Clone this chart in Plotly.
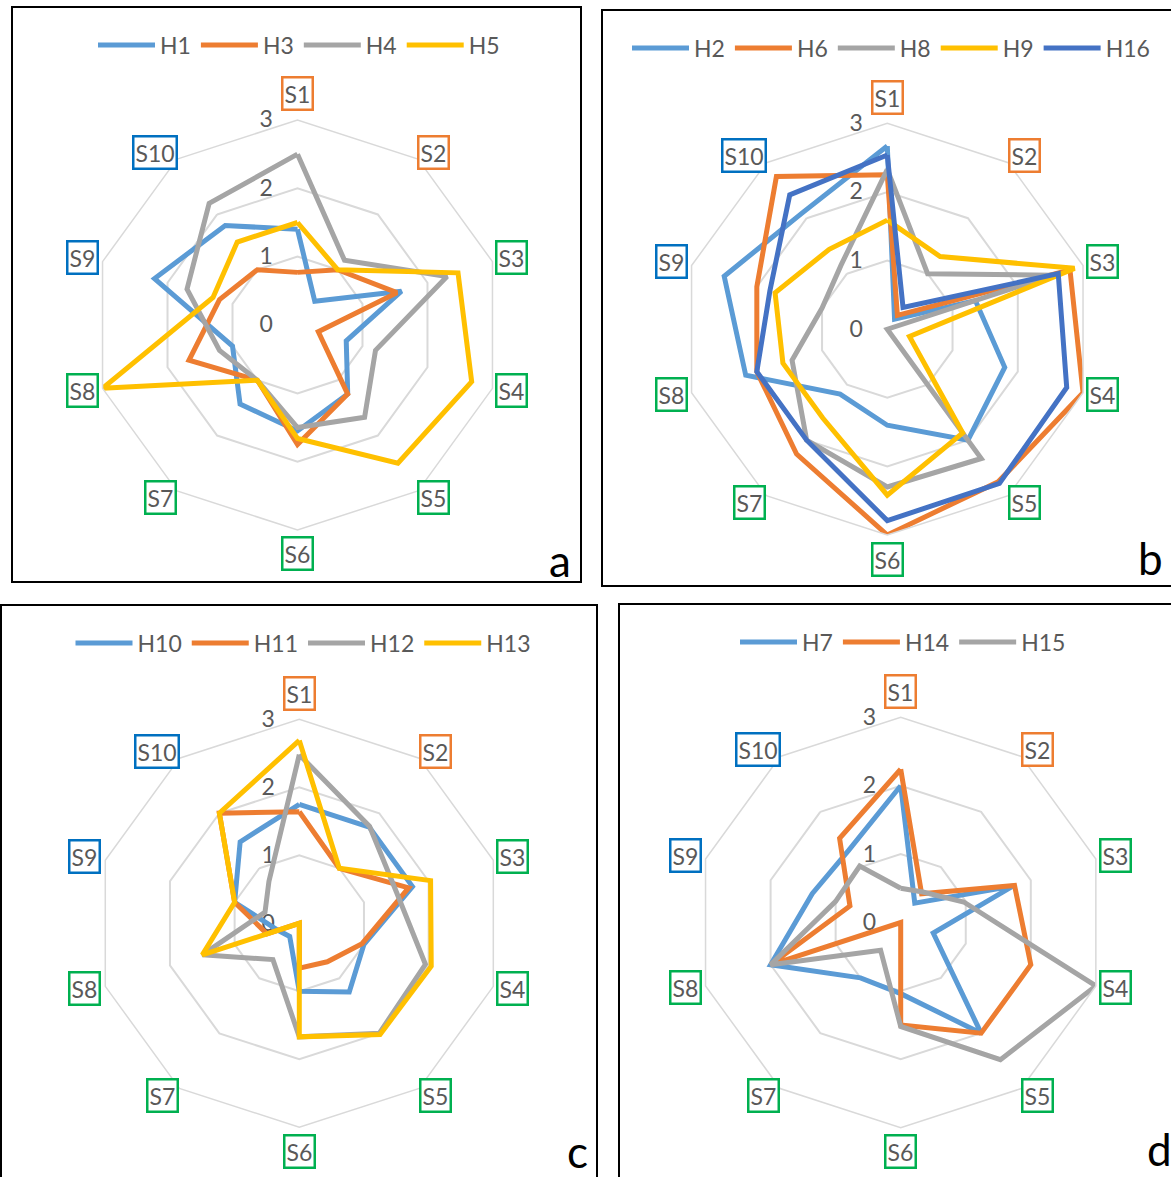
import math
import plotly.graph_objects as go

W, H = 1171, 1177

categories = ["S1", "S2", "S3", "S4", "S5", "S6", "S7", "S8", "S9", "S10"]
radial_ticks = [0, 1, 2, 3]

# Panel a
a_names = ["H1", "H3", "H4", "H5"]
a_H1 = [1.4, 0.43, 1.6, 0.75, 1.25, 1.55, 1.43, 1.0, 2.2, 1.8]
a_H3 = [0.77, 1.0, 1.53, 0.32, 1.25, 1.75, 1.0, 1.67, 1.2, 1.0]
a_H4 = [2.5, 1.17, 2.3, 1.2, 1.67, 1.5, 1.0, 1.2, 1.7, 2.2]
a_H5 = [1.5, 1.0, 2.47, 2.68, 2.5, 1.66, 1.0, 3.0, 1.3, 1.5]

# Panel b
b_names = ["H2", "H6", "H8", "H9", "H16"]
b_H2 = [2.67, 0.18, 1.35, 1.8, 2.0, 1.4, 1.17, 2.17, 2.5, 2.1]
b_H6 = [2.25, 0.25, 2.8, 3.0, 2.75, 3.0, 2.25, 2.0, 2.0, 2.75]
b_H8 = [2.33, 1.0, 2.55, 0.0, 2.33, 2.3, 2.0, 1.46, 1.0, 1.15]
b_H9 = [1.59, 1.31, 2.87, 0.34, 1.87, 2.42, 1.6, 1.6, 1.72, 1.44]
b_H16 = [2.54, 0.39, 2.62, 2.75, 2.78, 2.79, 2.0, 2.0, 1.8, 2.42]

# Panel c
c_names = ["H10", "H11", "H12", "H13"]
c_H10 = [1.75, 1.75, 1.75, 1.0, 1.25, 1.0, 0.24, 0.33, 1.0, 1.48]
c_H11 = [1.64, 1.0, 1.69, 0.97, 0.7, 0.66, 0.0, 0.5, 1.0, 2.0]
c_H12 = [2.48, 1.76, 1.5, 1.95, 2.0, 1.67, 0.66, 1.5, 0.53, 0.76]
c_H13 = [2.69, 1.0, 2.03, 2.04, 2.02, 1.67, 0.0, 1.5, 1.0, 2.0]

# Panel d
d_names = ["H7", "H14", "H15"]
d_H7 = [2.0, 0.35, 1.73, 0.5, 2.0, 1.04, 1.0, 2.0, 1.36, 1.3]
d_H14 = [2.24, 0.52, 1.75, 2.0, 2.0, 1.5, 0.0, 2.0, 0.78, 1.52]
d_H15 = [0.5, 0.55, 0.97, 3.0, 2.48, 1.52, 0.5, 2.0, 1.0, 1.02]

BLUE, ORANGE, GRAY, YELLOW, DBLUE = "#5B9BD5", "#ED7D31", "#A5A5A5", "#FFC000", "#4472C4"
GREEN, LBLUE = "#00B050", "#0070C0"
label_border = {"S1": ORANGE, "S2": ORANGE, "S3": GREEN, "S4": GREEN,
                "S5": GREEN, "S6": GREEN, "S7": GREEN, "S8": GREEN,
                "S9": LBLUE, "S10": LBLUE}
# label offsets (px) from each outer vertex
label_off = [(0, -26), (16, -7), (19.5, -4), (19.5, 2), (16, 7), (0, 24),
             (-17, 7), (-20.5, 2), (-20.5, -4), (-22, -7)]

FONT = "Lato, 'Open Sans', sans-serif"
TXT = "#595959"
FS = 23

panels = [
    dict(key="polar", legend="legend", cx=297.5, cy=325, R=205,
         series=[(a_names[0], a_H1, BLUE), (a_names[1], a_H3, ORANGE),
                 (a_names[2], a_H4, GRAY), (a_names[3], a_H5, YELLOW)],
         letter="a", lpos=(560, 560), legpos=(299, 45)),
    dict(key="polar2", legend="legend2", cx=887.3, cy=329.2, R=205.8,
         series=[(b_names[0], b_H2, BLUE), (b_names[1], b_H6, ORANGE),
                 (b_names[2], b_H8, GRAY), (b_names[3], b_H9, YELLOW),
                 (b_names[4], b_H16, DBLUE)],
         letter="b", lpos=(1150, 558), legpos=(891, 48)),
    dict(key="polar3", legend="legend3", cx=299.3, cy=923.3, R=204,
         series=[(c_names[0], c_H10, BLUE), (c_names[1], c_H11, ORANGE),
                 (c_names[2], c_H12, GRAY), (c_names[3], c_H13, YELLOW)],
         letter="c", lpos=(577, 1151), legpos=(303, 643)),
    dict(key="polar4", legend="legend4", cx=900.7, cy=922.5, R=205.2,
         series=[(d_names[0], d_H7, BLUE), (d_names[1], d_H14, ORANGE),
                 (d_names[2], d_H15, GRAY)],
         letter="d", lpos=(1159, 1149), legpos=(903, 642)),
]

fig = go.Figure()
layout = dict(width=W, height=H, margin=dict(l=0, r=0, t=0, b=0),
              paper_bgcolor="white", plot_bgcolor="white",
              font=dict(family=FONT, color=TXT, size=FS))
annotations = []
shapes = []

for p in panels:
    for name, vals, color in p["series"]:
        fig.add_trace(go.Scatterpolar(
            r=vals + vals[:1], theta=categories + categories[:1],
            mode="lines", name=name, subplot=p["key"], legend=p["legend"],
            line=dict(color=color, width=5), hoverinfo="name+r+theta"))
    cx, cy, R = p["cx"], p["cy"], p["R"]
    layout[p["key"]] = dict(
        domain=dict(x=[(cx - R) / W, (cx + R) / W], y=[1 - (cy + R) / H, 1 - (cy - R) / H]),
        bgcolor="rgba(0,0,0,0)", gridshape="linear",
        radialaxis=dict(range=[0, 3], tickvals=radial_ticks, showline=False,
                        ticks="outside", ticklen=16, tickcolor="rgba(0,0,0,0)",
                        gridcolor="#D9D9D9", gridwidth=1.5, angle=90, side="counterclockwise",
                        tickangle=90, layer="below traces",
                        tickfont=dict(size=FS, color=TXT, family=FONT)),
        angularaxis=dict(rotation=90, direction="clockwise", showticklabels=False,
                         showgrid=False, ticks="", linecolor="#D9D9D9", linewidth=1.5,
                         categoryarray=categories, categoryorder="array"))
    lx, ly = p["legpos"]
    layout[p["legend"]] = dict(orientation="h", x=lx / W, y=1 - ly / H, xanchor="center",
                               yanchor="middle", bgcolor="rgba(0,0,0,0)",
                               font=dict(size=FS, color=TXT, family=FONT),
                               itemwidth=57, tracegroupgap=0)
    for i, cat in enumerate(categories):
        th = math.radians(36 * i)
        vx = cx + R * math.sin(th) + label_off[i][0]
        vy = cy - R * math.cos(th) + label_off[i][1]
        annotations.append(dict(x=vx / W, y=1 - vy / H, xref="paper", yref="paper",
                                text=cat, showarrow=False, xanchor="center", yanchor="middle",
                                font=dict(size=FS, color=TXT, family=FONT),
                                bordercolor=label_border[cat], borderwidth=2.5, borderpad=1,
                                bgcolor="white"))
    ax, ay = p["lpos"]
    annotations.append(dict(x=ax / W, y=1 - ay / H, xref="paper", yref="paper",
                            text=p["letter"], showarrow=False, xanchor="center", yanchor="middle",
                            font=dict(size=44, color="black", family=FONT)))

frames = [(12, 7, 581, 582), (602, 10, 1174, 586), (1, 605, 597, 1180), (619, 604, 1174, 1180)]
for x0, y0, x1, y1 in frames:
    shapes.append(dict(type="rect", xref="paper", yref="paper",
                       x0=x0 / W, x1=x1 / W, y0=1 - y1 / H, y1=1 - y0 / H,
                       line=dict(color="black", width=2), fillcolor="rgba(0,0,0,0)", layer="below"))

layout["annotations"] = annotations
layout["shapes"] = shapes
fig.update_layout(**layout)
fig.write_html("out.html", config={"displayModeBar": False},
               post_script="document.body.style.margin='0px';")
